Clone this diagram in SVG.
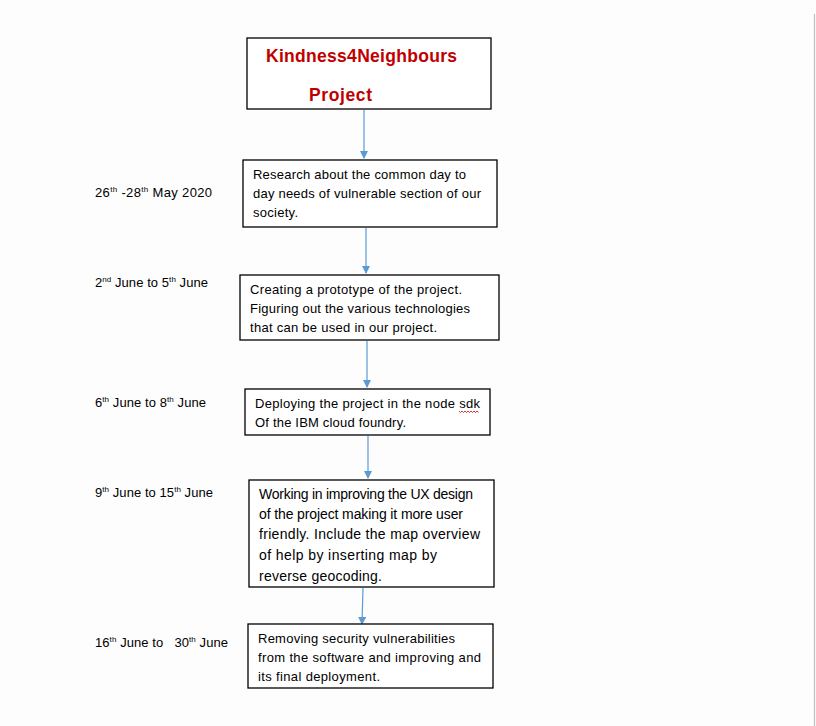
<svg xmlns="http://www.w3.org/2000/svg" width="816" height="726" viewBox="0 0 816 726">
<style>
.box{fill:#fff;stroke:#000;stroke-width:1.3}
.t{font-family:"Liberation Sans",Arial,sans-serif;font-size:13px;fill:#000}
.u{font-family:"Liberation Sans",Arial,sans-serif;font-size:14px;fill:#000}
.d{font-family:"Liberation Sans",Arial,sans-serif;font-size:13px;fill:#000}
.s{font-size:8px}
.title{font-family:"Liberation Sans",Arial,sans-serif;font-size:17.5px;font-weight:bold;fill:#c00000}
.c{stroke:#5b9bd5;stroke-width:1.2;fill:none}
</style>
<defs>
<marker id="ah" markerWidth="8" markerHeight="8" refX="7" refY="4" orient="auto" markerUnits="userSpaceOnUse">
<path d="M0,0 L8,4 L0,8 Z" fill="#5b9bd5"/>
</marker>
</defs>
<rect width="816" height="726" fill="#fdfdfd"/>
<line x1="814.5" y1="14" x2="814.5" y2="726" stroke="#c0c0c0" stroke-width="1.2"/>
<g id="connectors">
<line class="c" x1="364" y1="110" x2="364" y2="158" marker-end="url(#ah)"/>
<line class="c" x1="366" y1="228" x2="366" y2="273" marker-end="url(#ah)"/>
<line class="c" x1="367" y1="341" x2="367" y2="387" marker-end="url(#ah)"/>
<line class="c" x1="368" y1="436" x2="368" y2="478" marker-end="url(#ah)"/>
<line class="c" x1="363" y1="588" x2="362" y2="624" marker-end="url(#ah)"/>
</g>
<g id="title">
<rect class="box" x="247" y="38" width="244" height="71"/>
<text class="title" x="266" y="62" textLength="191">Kindness4Neighbours</text>
<text class="title" x="309" y="101" textLength="63">Project</text>
</g>
<g id="research">
<rect class="box" x="243" y="160" width="254" height="67"/>
<text class="t" x="253" y="179" textLength="213">Research about the common day to</text>
<text class="t" x="253" y="198" textLength="228">day needs of vulnerable section of our</text>
<text class="t" x="253" y="217" textLength="45">society.</text>
</g>
<g id="prototype">
<rect class="box" x="240" y="275" width="259" height="65"/>
<text class="t" x="250" y="294" textLength="212">Creating a prototype of the project.</text>
<text class="t" x="250" y="313" textLength="220">Figuring out the various technologies</text>
<text class="t" x="250" y="332" textLength="187">that can be used in our project.</text>
</g>
<g id="deploy">
<rect class="box" x="245" y="389" width="245" height="46"/>
<text class="t" x="255" y="408" textLength="225">Deploying the project in the node sdk</text>
<path d="M459,411 l1.5,1.5 l1.5,-1.5 l1.5,1.5 l1.5,-1.5 l1.5,1.5 l1.5,-1.5 l1.5,1.5 l1.5,-1.5 l1.5,1.5 l1.5,-1.5 l1.5,1.5 l1.5,-1.5 l1.5,1.5" fill="none" stroke="#e00000" stroke-width="0.8"/>
<text class="t" x="255" y="427" textLength="151">Of the IBM cloud foundry.</text>
</g>
<g id="ux">
<rect class="box" x="249" y="480" width="245" height="107"/>
<text class="u" x="259" y="499" textLength="214">Working in improving the UX design</text>
<text class="u" x="259" y="519" textLength="204">of the project making it more user</text>
<text class="u" x="259" y="539" textLength="221">friendly. Include the map overview</text>
<text class="u" x="259" y="560" textLength="178">of help by inserting map by</text>
<text class="u" x="259" y="581" textLength="123">reverse geocoding.</text>
</g>
<g id="security">
<rect class="box" x="248" y="624" width="245" height="64"/>
<text class="t" x="258" y="643" textLength="197">Removing security vulnerabilities</text>
<text class="t" x="258" y="662" textLength="223">from the software and improving and</text>
<text class="t" x="258" y="681" textLength="122">its final deployment.</text>
</g>
<g id="dates">
<text class="d" x="95" y="197" textLength="117">26<tspan class="s" dy="-5">th</tspan><tspan dy="5"> -28</tspan><tspan class="s" dy="-5">th</tspan><tspan dy="5"> May 2020</tspan></text>
<text class="d" x="95" y="287" textLength="113">2<tspan class="s" dy="-5">nd</tspan><tspan dy="5"> June to 5</tspan><tspan class="s" dy="-5">th</tspan><tspan dy="5"> June</tspan></text>
<text class="d" x="95" y="407" textLength="111">6<tspan class="s" dy="-5">th</tspan><tspan dy="5"> June to 8</tspan><tspan class="s" dy="-5">th</tspan><tspan dy="5"> June</tspan></text>
<text class="d" x="95" y="497" textLength="118">9<tspan class="s" dy="-5">th</tspan><tspan dy="5"> June to 15</tspan><tspan class="s" dy="-5">th</tspan><tspan dy="5"> June</tspan></text>
<text class="d" x="95" y="647" textLength="133" xml:space="preserve">16<tspan class="s" dy="-5">th</tspan><tspan dy="5"> June to   30</tspan><tspan class="s" dy="-5">th</tspan><tspan dy="5"> June</tspan></text>
</g>
</svg>
